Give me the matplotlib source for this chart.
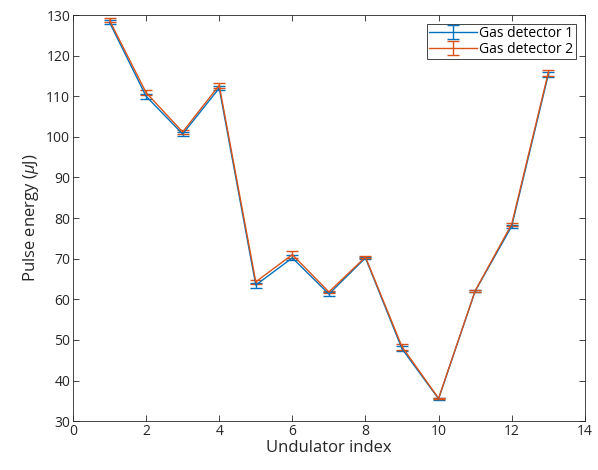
import numpy as np
import matplotlib
matplotlib.use('Agg')
import matplotlib.pyplot as plt

plt.rcParams['font.family'] = ['Open Sans', 'DejaVu Sans']
plt.rcParams['mathtext.fontset'] = 'custom'
plt.rcParams['mathtext.it'] = 'Open Sans:italic'
plt.rcParams['mathtext.rm'] = 'Open Sans'

undulator = [1, 2, 3, 4, 5, 6, 7, 8, 9, 10, 11, 12, 13]
gd1 = [128.2, 110.0, 100.7, 112.0, 63.5, 70.2, 61.3, 70.2, 47.8, 35.5, 62.0, 78.0, 115.3]
gd1_err = [0.5, 0.6, 0.4, 0.5, 0.6, 0.6, 0.4, 0.3, 0.6, 0.2, 0.3, 0.4, 0.6]
gd2 = [128.7, 110.9, 101.2, 112.7, 64.3, 71.0, 61.8, 70.4, 48.3, 35.6, 62.1, 78.5, 115.8]
gd2_err = [0.5, 0.7, 0.4, 0.6, 0.5, 0.9, 0.3, 0.2, 0.7, 0.2, 0.2, 0.4, 0.7]

blue = (0, 0.447, 0.741)
orange = (0.85, 0.325, 0.098)

fig = plt.figure(figsize=(5.98, 4.70), dpi=100)
ax = fig.add_axes([0.122, 0.104, 0.856, 0.864])

ax.errorbar(undulator, gd1, yerr=gd1_err, color=blue, lw=1, capsize=4,
            elinewidth=1, capthick=1, label='Gas detector 1')
ax.errorbar(undulator, gd2, yerr=gd2_err, color=orange, lw=1, capsize=4,
            elinewidth=1, capthick=1, label='Gas detector 2')

ax.set_xlim(0, 14)
ax.set_ylim(30, 130)
ax.set_xticks(range(0, 15, 2))
ax.set_yticks(range(30, 131, 10))
ax.tick_params(direction='in', top=True, right=True, labelsize=10,
               colors='#262626', length=4, width=0.6, pad=2)
for s in ax.spines.values():
    s.set_linewidth(0.6)
    s.set_color('#262626')

ax.set_xlabel('Undulator index', fontsize=12, color='#262626', labelpad=1)
ax.set_ylabel(r'Pulse energy ($\mu$J)', fontsize=12, color='#262626', labelpad=4)

leg = ax.legend(loc='upper right', fontsize=10, fancybox=False,
                framealpha=1, edgecolor='#262626', borderaxespad=0.65,
                handlelength=3.4, borderpad=0.15, labelspacing=0.05,
                handletextpad=0.2)
leg.get_frame().set_linewidth(0.6)

fig.savefig('out.png', dpi=100)
plt.close(fig)
